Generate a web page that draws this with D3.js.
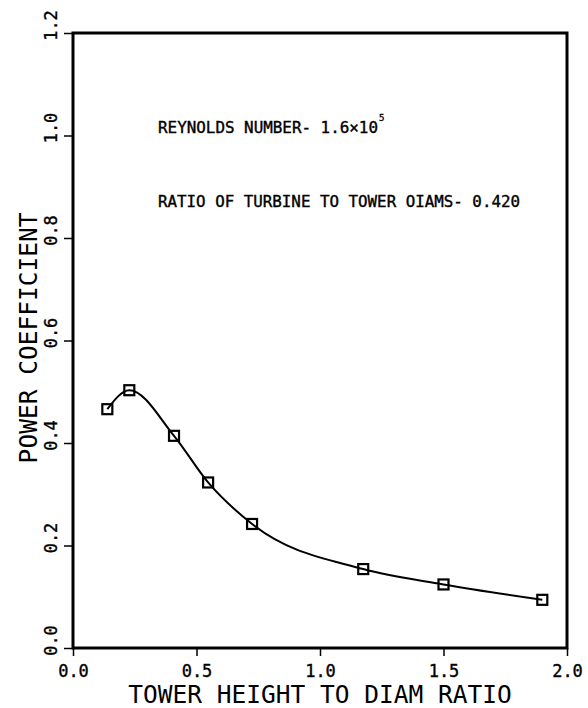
<!DOCTYPE html>
<html>
<head>
<meta charset="utf-8">
<script src="https://cdn.jsdelivr.net/npm/d3@7/dist/d3.min.js"></script>
<style>
  html, body { margin: 0; padding: 0; background: #fff; }
  svg { display: block; }
  text { font-family: "DejaVu Sans Mono", monospace; fill: #000; }
  text.heavy { stroke: #000; stroke-width: 0.35; }
</style>
</head>
<body>
<svg id="chart" width="588" height="708"></svg>
<script>
// Data
const heightRatio = [0.139, 0.228, 0.409, 0.547, 0.725, 1.175, 1.50, 1.90];
const powerCoeff  = [0.466, 0.503, 0.414, 0.323, 0.242, 0.154, 0.124, 0.094];
const xTicks = [0.0, 0.5, 1.0, 1.5, 2.0];
const yTicks = [0.0, 0.2, 0.4, 0.6, 0.8, 1.0, 1.2];
const xTitle = "TOWER HEIGHT TO DIAM RATIO";
const yTitle = "POWER COEFFICIENT";
const note1 = "REYNOLDS NUMBER- 1.6\u00D710";
const note1Sup = "5";
const note2 = "RATIO OF TURBINE TO TOWER OIAMS- 0.420";

const svg = d3.select("#chart");
const x = d3.scaleLinear().domain([0, 2]).range([73, 567]);
const y = d3.scaleLinear().domain([0, 1.2]).range([648, 33]);

// Axes (ticks outward)
const xAxis = d3.axisBottom(x).tickValues(xTicks).tickSize(8)
  .tickFormat(d3.format(".1f"));
const gx = svg.append("g").attr("transform", `translate(0,${y(0)})`).call(xAxis);
gx.select(".domain").remove();
gx.selectAll(".tick line").attr("stroke", "#000").attr("stroke-width", 1.5);
gx.selectAll(".tick text").attr("class", "heavy").attr("font-size", 17).attr("y", 0).attr("dy", 0)
  .attr("transform", "translate(0,29)").attr("font-family", "DejaVu Sans Mono");

const yAxis = d3.axisLeft(y).tickValues(yTicks).tickSize(9).tickFormat(d3.format(".1f"));
const gy = svg.append("g").attr("transform", `translate(${x(0)},0)`).call(yAxis);
gy.select(".domain").remove();
gy.selectAll(".tick line").attr("stroke", "#000").attr("stroke-width", 1.5);
gy.selectAll(".tick text")
  .attr("class", "heavy")
  .attr("x", null).attr("dy", null)
  .attr("text-anchor", "middle").attr("font-size", 17)
  .attr("font-family", "DejaVu Sans Mono")
  .attr("transform", "translate(-16,-8) rotate(-90)");

// Frame
svg.append("rect")
  .attr("x", x(0)).attr("y", y(1.2))
  .attr("width", x(2) - x(0)).attr("height", y(0) - y(1.2))
  .attr("fill", "none").attr("stroke", "#000").attr("stroke-width", 3);

// Curve
const pts = heightRatio.map((d, i) => [d, powerCoeff[i]]);
const line = d3.line().x(d => x(d[0])).y(d => y(d[1])).curve(d3.curveMonotoneX);
svg.append("path").attr("d", line(pts))
  .attr("fill", "none").attr("stroke", "#000").attr("stroke-width", 2);

// Markers
const s = 10;
svg.selectAll("rect.pt").data(pts).enter().append("rect")
  .attr("class", "pt")
  .attr("x", d => x(d[0]) - s / 2).attr("y", d => y(d[1]) - s / 2)
  .attr("width", s).attr("height", s)
  .attr("fill", "none").attr("stroke", "#000").attr("stroke-width", 2.2);

// Annotations
const t1 = svg.append("text").attr("class", "heavy").attr("x", 158).attr("y", 133).attr("font-size", 15);
t1.append("tspan").text(note1).attr("textLength", 220).attr("lengthAdjust", "spacingAndGlyphs");
t1.append("tspan").text(note1Sup).attr("font-size", 9).attr("dy", -12).attr("dx", 1);

svg.append("text").attr("class", "heavy").attr("x", 158).attr("y", 207).attr("font-size", 15)
  .attr("textLength", 362).attr("lengthAdjust", "spacingAndGlyphs").text(note2);

// Axis titles
svg.append("text").attr("x", 320).attr("y", 703).attr("text-anchor", "middle")
  .attr("font-size", 24.5).text(xTitle);
svg.append("text").attr("transform", "translate(37,338) rotate(-90)")
  .attr("text-anchor", "middle").attr("font-size", 24.5).text(yTitle);
</script>
</body>
</html>
